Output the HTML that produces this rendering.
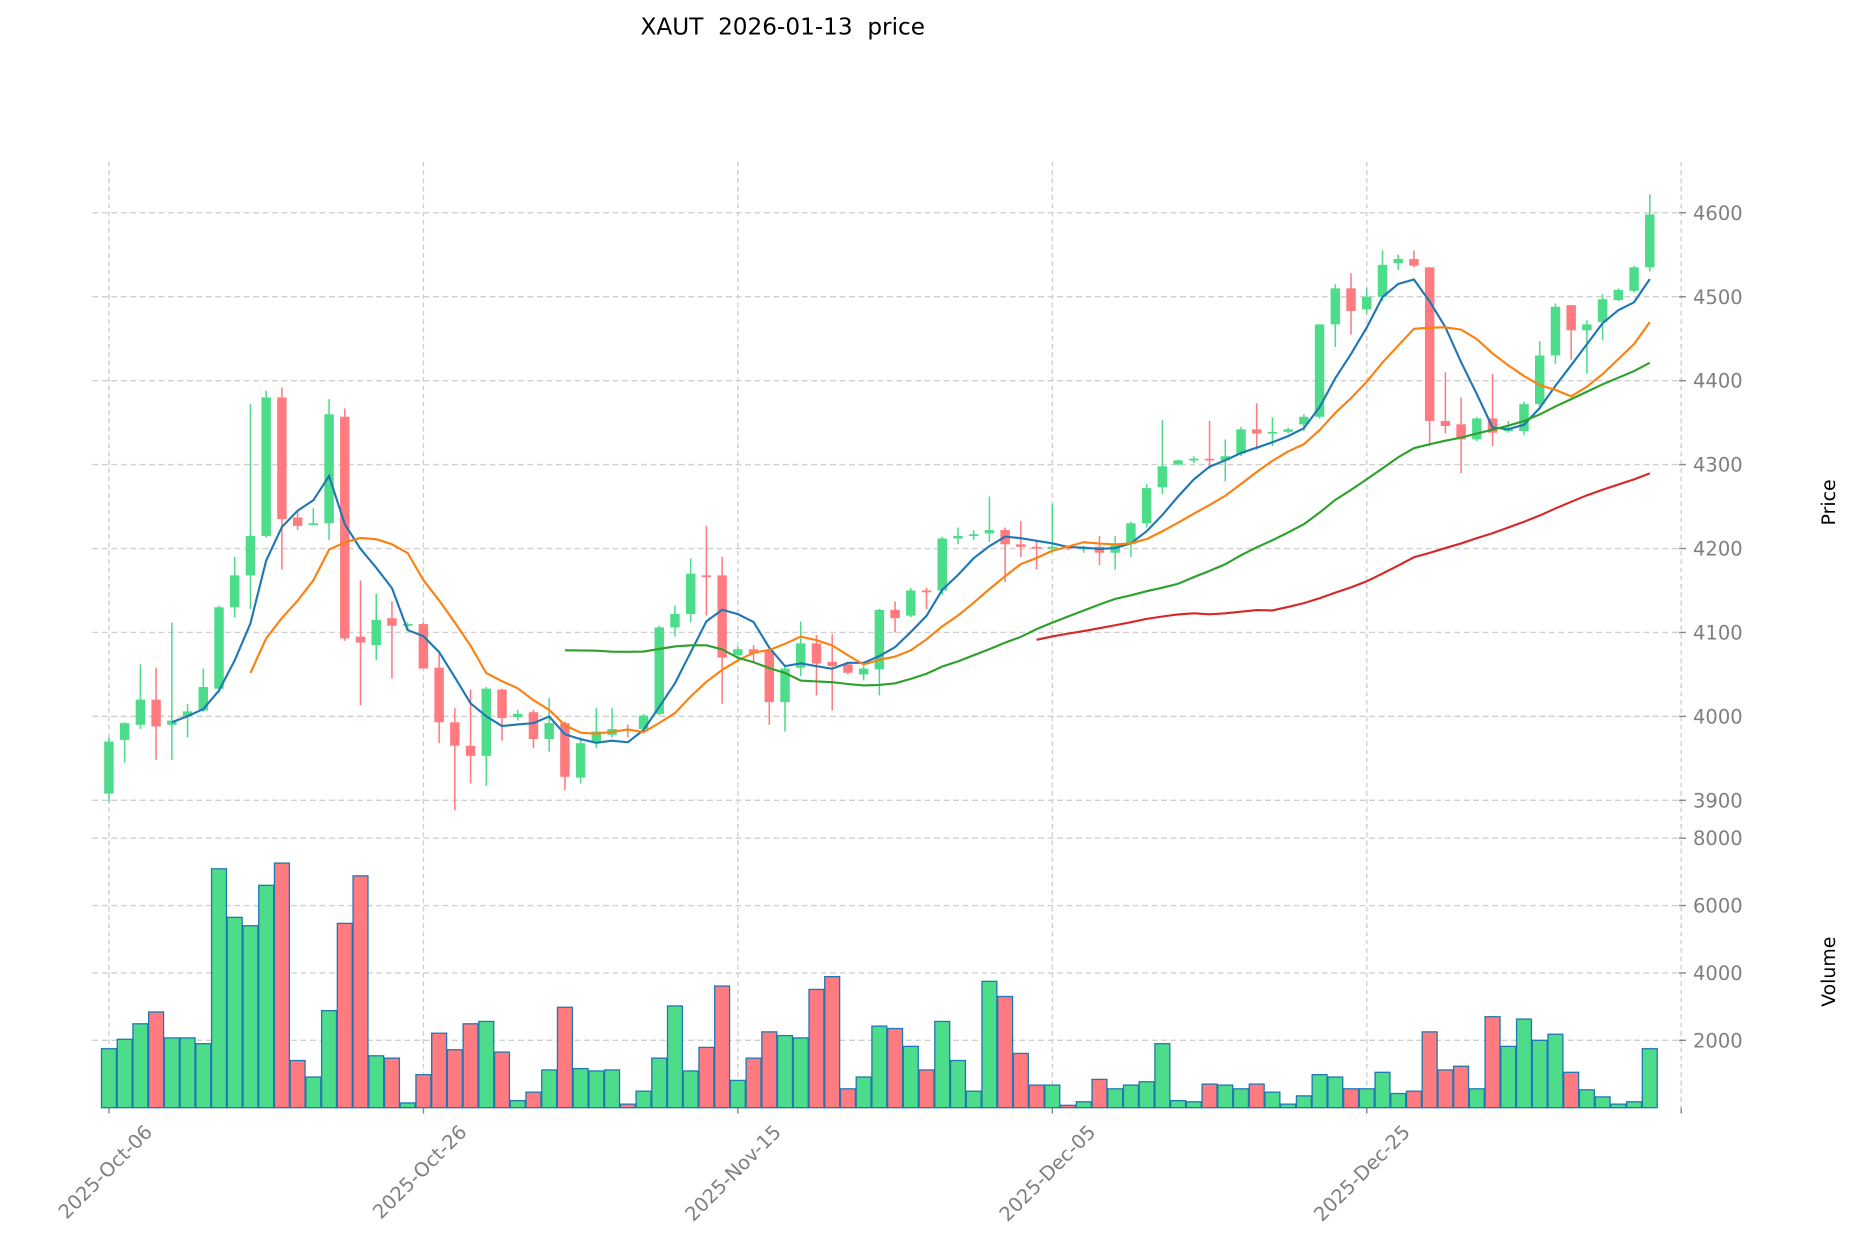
<!DOCTYPE html>
<html><head><meta charset="utf-8"><style>
html,body{margin:0;padding:0;background:#fff;}
svg{display:block;font-family:"DejaVu Sans","Liberation Sans",sans-serif;}
</style></head><body>
<svg id="chart" width="1854" height="1246" viewBox="0 0 1568 1054" xmlns="http://www.w3.org/2000/svg">
<rect x="0" y="0" width="1568" height="1054" fill="#fff"/>
<text x="662" y="29" text-anchor="middle" font-size="19.6" fill="#000" xml:space="preserve">XAUT  2026-01-13  price</text>
<g id="grid"></g><g id="vol"></g><g id="candles"></g><g id="ma"></g><g id="axes"></g>
<text transform="translate(1552,425) rotate(-90)" text-anchor="middle" font-size="16" fill="#000">Price</text>
<text transform="translate(1552,822) rotate(-90)" text-anchor="middle" font-size="16" fill="#000">Volume</text>
</svg>
<script>
const opens  = [3908,3972,3990,4020,3990,4000,4007,4033,4130,4168,4215,4380,4237,4228,4230,4357,4095,4085,4117,4108,4110,4058,3993,3965,3953,4032,3999,4005,3973,3992,3927,3970,3978,3985,3985,4003,4106,4122,4168,4168,4073,4080,4078,4017,4058,4087,4065,4062,4050,4056,4127,4120,4150,4150,4212,4215,4218,4222,4205,4202,4200,4202,4200,4202,4195,4205,4230,4273,4300,4305,4307,4305,4313,4342,4337,4339,4348,4357,4467,4510,4485,4500,4540,4545,4535,4352,4348,4330,4355,4340,4340,4372,4430,4490,4460,4470,4496,4507,4535];
const highs  = [3975,3993,4062,4058,4112,4015,4057,4132,4190,4372,4388,4392,4245,4248,4378,4367,4162,4146,4137,4112,4112,4075,4010,4032,4035,4033,4008,4008,4022,3994,3975,4010,4010,3990,4003,4108,4132,4188,4227,4190,4083,4085,4080,4062,4113,4097,4098,4065,4060,4128,4137,4153,4153,4214,4225,4222,4262,4225,4233,4210,4253,4203,4203,4215,4215,4232,4277,4353,4306,4310,4352,4330,4345,4373,4356,4344,4360,4467,4515,4528,4510,4555,4550,4555,4535,4410,4380,4357,4408,4352,4375,4447,4492,4490,4472,4503,4510,4537,4622];
const lows   = [3898,3945,3985,3948,3948,3975,4005,4028,4118,4128,4213,4175,4222,4228,4210,4090,4013,4067,4045,4104,4057,3968,3888,3920,3917,3971,3995,3962,3958,3912,3920,3962,3975,3975,3983,4001,4095,4112,4120,4015,4066,4065,3990,3982,4048,4025,4007,4050,4043,4025,4100,4118,4128,4145,4205,4210,4208,4160,4190,4175,4195,4198,4195,4180,4175,4190,4225,4265,4299,4302,4295,4280,4310,4318,4322,4337,4340,4355,4440,4455,4480,4495,4532,4535,4322,4337,4290,4328,4322,4338,4335,4365,4420,4425,4408,4448,4495,4505,4530];
const closes = [3970,3992,4020,3988,3995,4006,4035,4130,4168,4215,4380,4235,4227,4230,4360,4093,4088,4115,4108,4110,4057,3993,3965,3953,4033,3998,4003,3973,3992,3928,3968,3982,3985,3983,4001,4106,4122,4170,4167,4070,4080,4075,4017,4057,4087,4063,4060,4052,4057,4127,4117,4150,4148,4212,4215,4217,4222,4205,4202,4200,4202,4200,4201,4195,4205,4230,4272,4298,4305,4307,4305,4310,4342,4337,4339,4342,4357,4467,4510,4483,4500,4538,4545,4537,4352,4346,4330,4355,4338,4342,4372,4430,4488,4460,4467,4497,4508,4535,4598];
const volumes = [1750,2030,2490,2840,2070,2070,1900,7090,5650,5400,6600,7260,1400,910,2880,5470,6880,1540,1470,140,980,2210,1720,2490,2560,1650,210,460,1120,2980,1160,1090,1120,105,490,1470,3020,1090,1790,3610,810,1470,2250,2140,2070,3510,3890,560,910,2420,2350,1820,1120,2560,1400,490,3750,3300,1610,670,670,70,175,840,560,670,770,1900,210,175,700,670,560,700,460,105,350,980,910,560,560,1050,420,490,2250,1120,1230,560,2700,1820,2630,2000,2180,1050,530,320,105,175,1750];
const priceTicks = [3900,4000,4100,4200,4300,4400,4500,4600];
const volTicks = [2000,4000,6000,8000];
const dateLabels = ["2025-Oct-06","2025-Oct-26","2025-Nov-15","2025-Dec-05","2025-Dec-25",""];
const maPeriods = [5,10,30,60];
const maColors = ["#1f77b4","#ff7f0e","#2ca02c","#d62728"];

const NS="http://www.w3.org/2000/svg";
const L=78, R=1426, X0=92, DX=13.3;
const xs = i => X0 + i*DX;
const yP = p => 180 + (4600-p)*0.71;
const yV = v => 937 - v*0.0285;
function mk(tag, parent, attrs){const e=document.createElementNS(NS,tag);for(const k in attrs)e.setAttribute(k,attrs[k]);document.getElementById(parent).appendChild(e);return e;}
const GREEN="#4ddd8a", RED="#ff7b80", GRID="#d0d0d0", TXT="#7f7f7f";

dateLabels.forEach((lab,k)=>{
  const x = xs(k*20);
  let e=mk('line','grid',{x1:x,x2:x,y1:137,y2:937,stroke:GRID,'stroke-width':1.2,'stroke-dasharray':'4,3'});
  
  
  e=mk('line','axes',{x1:x,x2:x,y1:937,y2:942,stroke:'#888','stroke-width':1.2});
  
  
  if(lab){
    e=mk('text','axes',{transform:`translate(${x+29},${950}) rotate(-45)`,'text-anchor':'end','dominant-baseline':'hanging','font-size':16.5,fill:TXT});
    e.textContent=lab;
    
    
  }
});
priceTicks.forEach(p=>{
  const y=yP(p);
  let e=mk('line','grid',{x1:L,x2:R-6,y1:y,y2:y,stroke:GRID,'stroke-width':1.2,'stroke-dasharray':'5,3'});
  
  
  e=mk('line','axes',{x1:R-6,x2:R,y1:y,y2:y,stroke:'#888','stroke-width':1.2});
  
  
  e=mk('text','axes',{x:R+6,y:y+6,'font-size':16.5,fill:TXT});
  e.textContent=p;
  
  
});
volTicks.forEach(v=>{
  const y=yV(v);
  let e=mk('line','grid',{x1:L,x2:R-6,y1:y,y2:y,stroke:GRID,'stroke-width':1.2,'stroke-dasharray':'5,3'});
  
  
  e=mk('line','axes',{x1:R-6,x2:R,y1:y,y2:y,stroke:'#888','stroke-width':1.2});
  
  
  e=mk('text','axes',{x:R+6,y:y+6,'font-size':16.5,fill:TXT});
  e.textContent=v;
  
  
});
volumes.forEach((v,i)=>{
  const up = closes[i]>=opens[i];
  const e=mk('rect','vol',{x:xs(i)-6.3,y:yV(v),width:12.6,height:937-yV(v),fill:up?GREEN:RED,stroke:'#1f77b4','stroke-width':1.1});
  
  
});
closes.forEach((c,i)=>{
  const o=opens[i], up=c>=o, col=up?GREEN:RED, x=xs(i);
  let e=mk('line','candles',{x1:x,x2:x,y1:yP(highs[i]),y2:yP(lows[i]),stroke:col,'stroke-width':1.3});
  
  
  const top=yP(Math.max(o,c)), h=Math.max(1.5,Math.abs(yP(o)-yP(c)));
  e=mk('rect','candles',{x:x-4,y:top,width:8,height:h,fill:col});
  
  
});
maPeriods.forEach((n,k)=>{
  const pts=[];
  for(let i=n-1;i<closes.length;i++){let s=0;for(let j=i-n+1;j<=i;j++)s+=closes[j];pts.push(xs(i).toFixed(1)+','+yP(s/n).toFixed(1));}
  const e=mk('polyline','ma',{points:pts.join(' '),fill:'none',stroke:maColors[k],'stroke-width':1.8});
  
  
});
</script>
</body></html>
